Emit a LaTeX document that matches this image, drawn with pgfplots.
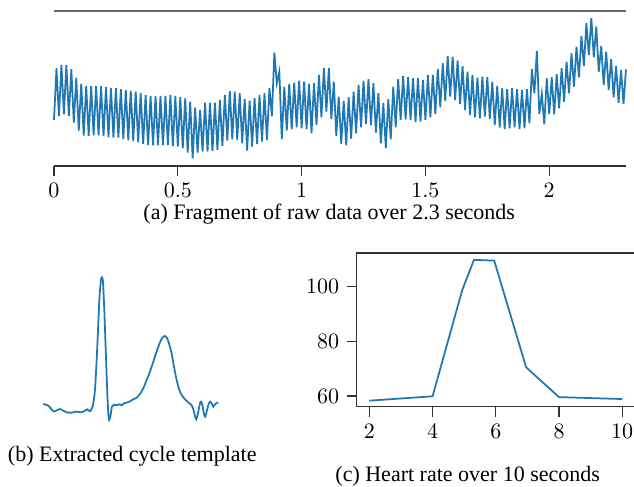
\documentclass[border=0pt]{standalone}
\usepackage{fontspec}
\setmainfont{Liberation Serif}
\usepackage{pgfplots}
\pgfplotsset{compat=1.18}
\definecolor{mplblue}{RGB}{31,119,180}
\newlength\s
\setlength\s{0.4545pt}

% raw signal, y = minus the height
\pgfplotstableread{
t y
0.00 -120
0.01 -68.3
0.02 -116
0.03 -65
0.04 -114
0.05 -65
0.06 -116
0.07 -69.3
0.08 -122.7
0.09 -77.7
0.10 -130.7
0.11 -83.7
0.12 -135.7
0.13 -86
0.14 -136
0.15 -86.3
0.16 -135.3
0.17 -86
0.18 -135.3
0.19 -86.3
0.20 -136
0.21 -87.3
0.22 -137.3
0.23 -88.3
0.24 -137.7
0.25 -88.3
0.26 -137.7
0.27 -89.3
0.28 -139
0.29 -90
0.30 -140
0.31 -90.7
0.32 -141
0.33 -91.7
0.34 -142.3
0.35 -93.3
0.36 -144
0.37 -95
0.38 -145
0.39 -96
0.40 -145.3
0.41 -96
0.42 -145.3
0.43 -96
0.44 -145.3
0.45 -96
0.46 -145
0.47 -95
0.48 -146
0.49 -96
0.50 -146.7
0.51 -97.3
0.52 -148.3
0.53 -98.3
0.54 -152.7
0.55 -101.7
0.56 -158.3
0.57 -107.7
0.58 -152.7
0.59 -110
0.60 -151.7
0.61 -102.7
0.62 -151.7
0.63 -102.7
0.64 -151
0.65 -102.7
0.66 -150
0.67 -100
0.68 -146
0.69 -95
0.70 -140.7
0.71 -91
0.72 -139.3
0.73 -91.7
0.74 -140
0.75 -93.3
0.76 -143.3
0.77 -99
0.78 -150.7
0.79 -100.7
0.80 -146.7
0.81 -98.3
0.82 -144
0.83 -95
0.84 -141.7
0.85 -93.3
0.86 -140
0.87 -88.3
0.88 -116
0.89 -52.7
0.90 -83.3
0.91 -71.7
0.92 -139.3
0.93 -86.7
0.94 -130.7
0.95 -84
0.96 -129.3
0.97 -82.7
0.98 -127.3
0.99 -80.7
1.00 -128.3
1.01 -81.7
1.02 -129.3
1.03 -84
1.04 -133.3
1.05 -83.3
1.06 -125
1.07 -75
1.08 -117.3
1.09 -68.3
1.10 -111.7
1.11 -68.3
1.12 -119
1.13 -81.7
1.14 -136
1.15 -96.7
1.16 -144
1.17 -101
1.18 -145.3
1.19 -97.3
1.20 -138.7
1.21 -91.7
1.22 -133.3
1.23 -85
1.24 -127.3
1.25 -80.7
1.26 -124
1.27 -79.3
1.28 -125
1.29 -83.3
1.30 -132.7
1.31 -93.3
1.32 -143.3
1.33 -103.3
1.34 -148.3
1.35 -99.3
1.36 -139.3
1.37 -86.7
1.38 -127.3
1.39 -79
1.40 -120
1.41 -76
1.42 -119.3
1.43 -77.3
1.44 -120
1.45 -78.3
1.46 -122
1.47 -78.3
1.48 -121.7
1.49 -80
1.50 -120
1.51 -75
1.52 -117.3
1.53 -75
1.54 -114
1.55 -69
1.56 -107.3
1.57 -63.3
1.58 -101
1.59 -56
1.60 -96.7
1.61 -56.7
1.62 -100
1.63 -60.7
1.64 -104
1.65 -66
1.66 -110
1.67 -71.7
1.68 -115
1.69 -75
1.70 -117.3
1.71 -77.7
1.72 -118.3
1.73 -76.7
1.74 -116.7
1.75 -77.3
1.76 -119
1.77 -81.7
1.78 -125
1.79 -86
1.80 -127.7
1.81 -88.3
1.82 -129
1.83 -89.3
1.84 -128.3
1.85 -88.3
1.86 -127.3
1.87 -89.3
1.88 -129
1.89 -90
1.90 -128.3
1.91 -89.3
1.92 -123.3
1.93 -69.3
1.94 -93.3
1.95 -51
1.96 -114
1.97 -94
1.98 -124.3
1.99 -78.3
2.00 -114.3
2.01 -77.3
2.02 -114.3
2.03 -74.3
2.04 -108.3
2.05 -68.3
2.06 -101.7
2.07 -61.7
2.08 -93.3
2.09 -53.3
2.10 -86.7
2.11 -46.7
2.12 -77.3
2.13 -36
2.14 -66
2.15 -23.3
2.16 -55
2.17 -18.3
2.18 -57.3
2.19 -26.7
2.20 -71.7
2.21 -46
2.22 -85
2.23 -51.7
2.24 -90
2.25 -59.3
2.26 -97.3
2.27 -66
2.28 -102.7
2.29 -70
2.30 -104
2.31 -69.3
}\rawdata

% one extracted cycle
\pgfplotstableread{
x y
130 -432
145 -437
160 -454
170 -451
180 -447
190 -452
200 -457
215 -458
230 -455
245 -457
255 -452
262 -448
270 -454
278 -440
285 -390
292 -260
298 -120
303 -60
306 -52
309 -65
313 -150
318 -290
322 -400
325 -460
328 -480
332 -465
336 -440
342 -434
350 -436
358 -433
365 -436
372 -430
380 -428
390 -424
400 -418
410 -413
420 -402
430 -385
440 -360
450 -335
460 -305
470 -275
480 -247
488 -232
494 -228
500 -232
507 -250
515 -280
522 -320
530 -360
538 -390
545 -405
555 -418
565 -427
575 -436
580 -448
585 -468
589 -478
594 -460
600 -430
604 -425
608 -440
613 -465
616 -470
620 -455
626 -432
631 -425
636 -432
640 -440
646 -432
655 -427
}\template

% heart rate
\pgfplotstableread{
t bpm
2 58.3
4 59.9
4.94 98.8
5.31 109.8
5.95 109.5
6.96 70.5
8 59.6
10 58.9
}\heartrate

\begin{document}
\begin{tikzpicture}
\useasboundingbox (0,0) rectangle ({634*\s},{-487*\s});

\begin{axis}[
    at={({54*\s},{-166*\s})}, anchor=south west,
    scale only axis, width=572\s, height=155\s,
    xmin=0, xmax=2.31, ymin=-166, ymax=-11,
    axis x line=bottom, axis y line=none,
    axis line style={-, black!80, line width=0.6pt},
    xtick={0,0.5,1,1.5,2},
    tick align=outside, major tick length=4.5pt,
    tick style={black!80, line width=0.6pt},
    clip=false
]
\addplot[mplblue, line width=0.8pt] table {\rawdata};
\draw[black!60, line width=0.6pt] (axis cs:0,-11) -- (axis cs:2.31,-11);
\end{axis}

\begin{axis}[
    at={({43.3*\s},{-420*\s})}, anchor=south west,
    scale only axis, width=175\s, height=142.7\s,
    xmin=130, xmax=655, ymin=-480, ymax=-52,
    hide axis, clip=false
]
\addplot[mplblue, line width=0.8pt, smooth, tension=0.4] table {\template};
\end{axis}

\begin{axis}[
    at={({356.7*\s},{-406.7*\s})}, anchor=south west,
    scale only axis, width=278.2\s, height=153.7\s,
    xmin=1.6, xmax=10.4, ymin=56.1, ymax=112.3,
    xtick={2,4,6,8,10}, ytick={60,80,100},
    xtick pos=left, ytick pos=left,
    tick align=outside, major tick length=4.5pt,
    axis line style={black!80, line width=0.6pt},
    tick style={black!80, line width=0.6pt}
]
\addplot[mplblue, line width=0.8pt] table {\heartrate};
\end{axis}

\node[anchor=base west, inner sep=0pt] at ({143*\s},{-220*\s}) {(a) Fragment of raw data over 2.3 seconds};
\node[anchor=base west, inner sep=0pt] at ({7.5*\s},{-462*\s}) {(b) Extracted cycle template};
\node[anchor=base west, inner sep=0pt] at ({335*\s},{-482*\s}) {(c) Heart rate over 10 seconds};
\end{tikzpicture}
\end{document}
